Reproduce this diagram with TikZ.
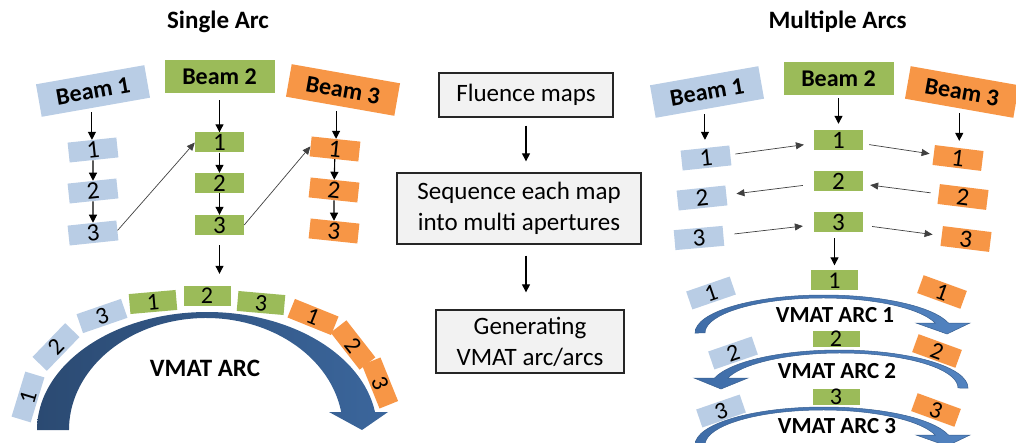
\documentclass[tikz,border=0pt]{standalone}
\usepackage{fontspec}
\setmainfont{Carlito}
\usetikzlibrary{arrows.meta,calc}

\definecolor{bbox}{HTML}{B9CDE5}
\definecolor{gbox}{HTML}{9BBB59}
\definecolor{obox}{HTML}{F79646}
\definecolor{flowfill}{HTML}{F2F2F2}
\definecolor{flowline}{HTML}{262626}
\definecolor{arcdark}{HTML}{2B4A72}
\definecolor{arcmid}{HTML}{3B669C}
\definecolor{arcsoft}{HTML}{3F6DA8}
\definecolor{arclight}{HTML}{5283C0}
\definecolor{arcedge}{HTML}{385F90}

\tikzset{
  beam/.style={minimum width=110pt, minimum height=33pt, inner sep=0pt,
    font=\fontsize{24}{28}\selectfont\bfseries},
  seg/.style={minimum width=49pt, minimum height=20pt, inner sep=0pt,
    font=\fontsize{25}{25}\selectfont},
  arcseg/.style={minimum width=47pt, minimum height=20pt, inner sep=0pt,
    font=\fontsize{24}{24}\selectfont},
  heading/.style={inner sep=0pt, font=\fontsize{25}{30}\selectfont\bfseries},
  arclabel/.style={inner sep=0pt, font=\fontsize{25}{30}\selectfont\bfseries},
  arclabelsm/.style={inner sep=0pt, font=\fontsize{23}{28}\selectfont\bfseries},
  flow/.style={draw=flowline, line width=1.3pt, fill=flowfill, inner sep=0pt,
    align=center, font=\fontsize{25}{31}\selectfont},
  arr/.style={draw=black, line width=1.1pt, -{Triangle[length=8pt,width=8pt]}},
  thinarr/.style={draw=black!75, line width=0.7pt, -{Triangle[length=8pt,width=7pt]}},
  bigarc/.style={left color=arcdark, right color=arcmid},
  smallarc/.style={left color=arcsoft, right color=arclight, draw=arcedge, line width=0.5pt},
}

\begin{document}
\begin{tikzpicture}[x=1pt,y=1pt]
\useasboundingbox (0,0) rectangle (1016,-443);

% ---------------- headings ----------------
\node[heading] (t1) at (218,-22) {Single Arc};
\node[heading] (t2) at (837.5,-22) {Multiple Arcs};

% ---------------- single arc: beams and apertures ----------------
\node[beam, fill=bbox, rotate=10]  (lB1) at (93,-91)      {Beam 1};
\node[beam, fill=gbox]             (lB2) at (219.5,-76.5) {Beam 2};
\node[beam, fill=obox, rotate=-10] (lB3) at (343,-90)     {Beam 3};

\node[seg, fill=bbox, rotate=6] (lb1) at (93,-150) {1};
\node[seg, fill=bbox, rotate=6] (lb2) at (93,-191) {2};
\node[seg, fill=bbox, rotate=6] (lb3) at (93,-233) {3};

\node[seg, fill=gbox] (lg1) at (219.5,-142.5) {1};
\node[seg, fill=gbox] (lg2) at (219.5,-183)   {2};
\node[seg, fill=gbox] (lg3) at (219.5,-225)   {3};

\node[seg, fill=obox, rotate=-6] (lo1) at (335,-149) {1};
\node[seg, fill=obox, rotate=-6] (lo2) at (334,-190) {2};
\node[seg, fill=obox, rotate=-6] (lo3) at (334,-231) {3};

\draw[arr, shorten <=5pt]  (lB1.south -| lb1.north) -- (lb1.north);
\draw[arr, shorten <=7pt]  (lB2) -- (lg1);
\draw[arr, shorten <=5pt]  (lB3.south -| lo1.north) -- (lo1.north);
\draw[arr] (lb1) -- (lb2);
\draw[arr] (lb2) -- (lb3);
\draw[arr] (lg1) -- (lg2);
\draw[arr] (lg2) -- (lg3);
\draw[arr] (lo1) -- (lo2);
\draw[arr] (lo2) -- (lo3);
\draw[thinarr] (lb3.east) -- (lg1.west);
\draw[thinarr] (lg3.east) -- (lo1.west);

% ---------------- single arc: the VMAT arc ----------------
\shade[bigarc] (37,-430)
  arc[start angle=180, end angle=8.77, x radius=170, y radius=118]
  -- (388,-412) -- (362,-430) -- (329,-412) -- (341.2,-412)
  arc[start angle=9.25, end angle=180, x radius=137, y radius=112]
  -- cycle;

\node[arcseg, fill=bbox, rotate=73]  (ab1) at (28,-397)  {1};
\node[arcseg, fill=bbox, rotate=46]  (ab2) at (56,-347)  {2};
\node[arcseg, fill=bbox, rotate=19]  (ab3) at (102,-316) {3};
\node[arcseg, fill=gbox, rotate=5]   (ag1) at (153,-302) {1};
\node[arcseg, fill=gbox]             (ag2) at (207,-296) {2};
\node[arcseg, fill=gbox, rotate=-5]  (ag3) at (261,-303) {3};
\node[arcseg, fill=obox, rotate=-22] (ao1) at (313,-317) {1};
\node[arcseg, fill=obox, rotate=-52] (ao2) at (353,-345) {2};
\node[arcseg, fill=obox, rotate=-68] (ao3) at (380,-383) {3};

\draw[arr, shorten <=10pt, shorten >=12pt] (lg3.south) -- (lg3.south |- ag2.north);

\node[arclabel] (lvmat) at (205,-368) {VMAT ARC};

% ---------------- workflow in the middle ----------------
\node[flow, minimum width=174pt, minimum height=44pt] (f1) at (526,-95) {Fluence maps};
\node[flow, minimum width=244pt, minimum height=71pt] (f2) at (519,-208.5)
  {Sequence each map\\into multi apertures};
\node[flow, minimum width=188pt, minimum height=63pt] (f3) at (530,-341.5)
  {Generating\\VMAT arc/arcs};

\draw[arr, shorten <=8pt, shorten >=11pt] (f1.south) -- (f1.south |- f2.north);
\draw[arr, shorten <=11pt, shorten >=17pt] (f2.south -| f1.south) -- (f1.south |- f3.north);

% ---------------- multiple arcs: beams and apertures ----------------
\node[beam, fill=bbox, rotate=10]  (rB1) at (707,-92)     {Beam 1};
\node[beam, fill=gbox]             (rB2) at (838.5,-78.5) {Beam 2};
\node[beam, fill=obox, rotate=-10] (rB3) at (962,-92)     {Beam 3};

\node[seg, fill=bbox, rotate=6] (rb1) at (706,-158) {1};
\node[seg, fill=bbox, rotate=6] (rb2) at (702,-198) {2};
\node[seg, fill=bbox, rotate=5] (rb3) at (699,-238) {3};

\node[seg, fill=gbox] (rg1) at (838.5,-140) {1};
\node[seg, fill=gbox] (rg2) at (838.5,-181) {2};
\node[seg, fill=gbox] (rg3) at (838.5,-222) {3};

\node[seg, fill=obox, rotate=-7] (ro1) at (958,-158) {1};
\node[seg, fill=obox, rotate=-7] (ro2) at (963,-197) {2};
\node[seg, fill=obox, rotate=-7] (ro3) at (966,-239) {3};

\draw[arr, shorten <=6pt, shorten >=8pt] (rB1.south -| rb1.north) -- (rb1.north);
\draw[arr, shorten <=3pt, shorten >=6pt] (rB2) -- (rg1);
\draw[arr, shorten <=5pt, shorten >=7pt] (rB3.south -| ro1.north) -- (ro1.north);

\draw[thinarr, shorten <=5pt,  shorten >=10pt] (rb1) -- (rg1);
\draw[thinarr, shorten <=6pt,  shorten >=4pt]  (rg1) -- (ro1);
\draw[thinarr, shorten <=8pt,  shorten >=7pt]  (ro2) -- (rg2);
\draw[thinarr, shorten <=11pt, shorten >=10pt] (rg2) -- (rb2);
\draw[thinarr, shorten <=11pt, shorten >=11pt] (rb3) -- (rg3);
\draw[thinarr, shorten <=9pt,  shorten >=9pt]  (rg3) -- (ro3);

% ---------------- multiple arcs: three VMAT arcs ----------------
% arc 1, clockwise
\shade[smallarc] (695,-333)
  arc[start angle=180, end angle=15.26, x radius=129, y radius=38]
  -- (970,-323) -- (947,-334) -- (916,-323) -- (935.1,-323)
  arc[start angle=16.6, end angle=180, x radius=117.5, y radius=35]
  -- cycle;
% arc 2, counter-clockwise
\shade[smallarc] (968,-388)
  arc[start angle=0, end angle=164.74, x radius=129, y radius=38]
  -- (694,-378) -- (721,-389) -- (748,-378) -- (727.9,-378)
  arc[start angle=163.4, end angle=0, x radius=117.5, y radius=35]
  -- cycle;
% arc 3, clockwise
\shade[smallarc] (695,-445)
  arc[start angle=180, end angle=15.26, x radius=129, y radius=38]
  -- (970,-435) -- (947,-446) -- (916,-435) -- (935.1,-435)
  arc[start angle=16.6, end angle=180, x radius=117.5, y radius=35]
  -- cycle;

\node[arcseg, fill=gbox] (a1g) at (834.5,-280.5) {1};
\node[arcseg, fill=gbox, minimum height=15pt] (a2g) at (836,-339) {2};
\node[arcseg, fill=gbox, minimum height=15pt] (a3g) at (836,-397) {3};

\node[arcseg, fill=bbox, rotate=19, minimum width=46pt, minimum height=19pt] (a1b) at (711,-293) {1};
\node[arcseg, fill=bbox, rotate=19, minimum width=46pt, minimum height=19pt] (a2b) at (733,-353) {2};
\node[arcseg, fill=bbox, rotate=19, minimum width=46pt, minimum height=19pt] (a3b) at (721,-411) {3};

\node[arcseg, fill=obox, rotate=-20, minimum width=46pt, minimum height=19pt] (a1o) at (942,-292) {1};
\node[arcseg, fill=obox, rotate=-20, minimum width=46pt, minimum height=19pt] (a2o) at (937,-351) {2};
\node[arcseg, fill=obox, rotate=-20, minimum width=46pt, minimum height=19pt] (a3o) at (936,-410) {3};

\draw[arr, shorten <=6pt, shorten >=5pt] (rg3.south -| a1g.north) -- (a1g.north);

\node[arclabelsm] (v1) at (835,-315) {VMAT ARC 1};
\node[arclabelsm] (v2) at (837,-371) {VMAT ARC 2};
\node[arclabelsm] (v3) at (837,-426) {VMAT ARC 3};
\end{tikzpicture}
\end{document}
